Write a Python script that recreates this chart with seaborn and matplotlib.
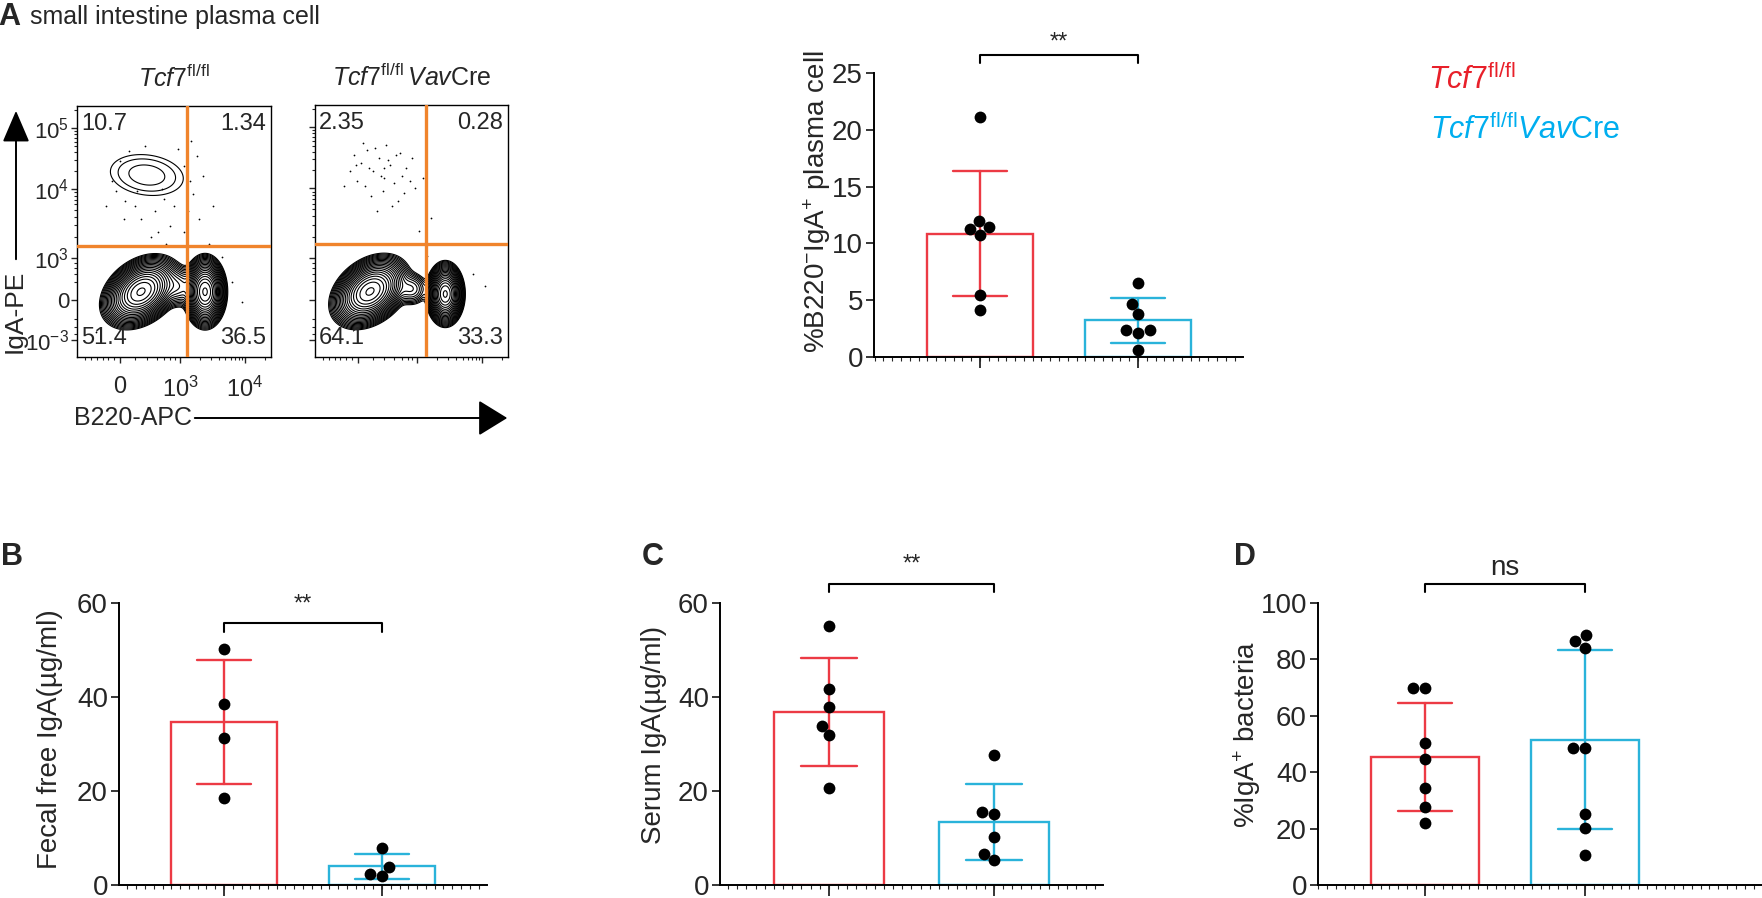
import numpy as np
import pandas as pd
import matplotlib
matplotlib.use("Agg")
import matplotlib.pyplot as plt
import seaborn as sns
from matplotlib.patches import FancyArrowPatch
from matplotlib.ticker import FixedLocator

# ---------------- data ----------------
groups = ["Tcf7fl/fl", "Tcf7fl/fl VavCre"]
group_colors = ["#EC3A44", "#2AB3DA"]
legend_colors = ["#E8202A", "#00AEEF"]

# A: %B220-IgA+ plasma cell
a_ctrl = [21.1, 12.0, 11.4, 11.3, 10.7, 5.5, 4.1]
a_cre = [6.5, 4.7, 3.8, 2.4, 2.35, 2.1, 0.65]
# B: fecal free IgA (ug/ml)
b_ctrl = [50.2, 38.6, 31.2, 18.6]
b_cre = [7.8, 3.9, 2.3, 1.9]
# C: serum IgA (ug/ml)
c_ctrl = [55.1, 41.7, 37.9, 33.9, 31.9, 20.6]
c_cre = [27.7, 15.5, 15.1, 10.2, 6.7, 5.3]
# D: %IgA+ bacteria
d_ctrl = [69.8, 69.8, 50.3, 44.7, 34.3, 27.6, 21.9]
d_cre = [88.8, 86.6, 84.1, 48.5, 48.5, 25.2, 20.1, 10.7]

sig_labels = ["**", "**", "**", "ns"]

# flow quadrant frequencies (UL, UR, LL, LR)
flow_ctrl_quads = ["10.7", "1.34", "51.4", "36.5"]
flow_cre_quads = ["2.35", "0.28", "64.1", "33.3"]
flow_ytick_labels = [r"$10^{5}$", r"$10^{4}$", r"$10^{3}$", "0", r"$10^{-3}$"]
flow_xtick_labels = ["0", r"$10^{3}$", r"$10^{4}$"]

# contour populations: centre x, centre y, sd major, sd minor, angle (deg), peak
flow_ctrl_pops = [
    [0.36, 0.725, 0.16, 0.068, -5, 2.0],
    [0.33, 0.26, 0.069, 0.042, 22, 200],
    [0.52, 0.28, 0.035, 0.045, 90, 12],
    [0.66, 0.26, 0.047, 0.036, 90, 200],
]
flow_cre_pops = [
    [0.285, 0.26, 0.069, 0.042, 22, 200],
    [0.50, 0.27, 0.030, 0.040, 90, 8],
    [0.675, 0.25, 0.041, 0.032, 90, 200],
]
# sparse events outside the contours (axes fractions)
flow_ctrl_dots_x = [0.18, 0.22, 0.25, 0.55, 0.58, 0.60, 0.62, 0.50, 0.45, 0.40, 0.30, 0.27, 0.35, 0.52,
                    0.57, 0.65, 0.20, 0.48, 0.42, 0.33, 0.70, 0.63, 0.15, 0.38, 0.55, 0.12, 0.80, 0.85,
                    0.75, 0.10, 0.46, 0.68, 0.24, 0.44, 0.59, 0.31]
flow_ctrl_dots_y = [0.70, 0.78, 0.62, 0.76, 0.70, 0.65, 0.80, 0.60, 0.63, 0.58, 0.60, 0.82, 0.84, 0.83,
                    0.58, 0.72, 0.66, 0.52, 0.50, 0.55, 0.60, 0.55, 0.60, 0.48, 0.50, 0.20, 0.30, 0.22,
                    0.40, 0.10, 0.45, 0.45, 0.55, 0.67, 0.86, 0.66]
flow_cre_dots_x = [0.20, 0.24, 0.27, 0.30, 0.33, 0.36, 0.39, 0.42, 0.45, 0.22, 0.26, 0.31, 0.35, 0.38,
                   0.41, 0.47, 0.52, 0.18, 0.29, 0.34, 0.43, 0.50, 0.56, 0.25, 0.37, 0.40, 0.32, 0.28,
                   0.46, 0.60, 0.15, 0.54, 0.21, 0.44, 0.36, 0.49, 0.82, 0.88, 0.10, 0.58]
flow_cre_dots_y = [0.80, 0.77, 0.82, 0.74, 0.79, 0.71, 0.76, 0.80, 0.72, 0.70, 0.68, 0.83, 0.66, 0.78,
                   0.69, 0.75, 0.67, 0.74, 0.64, 0.72, 0.62, 0.79, 0.71, 0.85, 0.84, 0.60, 0.58, 0.75,
                   0.65, 0.55, 0.68, 0.50, 0.76, 0.81, 0.75, 0.70, 0.33, 0.28, 0.20, 0.40]

# ---------------- layout ----------------
W, H = 1762, 898
sns.set_theme(style="ticks")
plt.rcParams["font.family"] = ["Liberation Sans", "DejaVu Sans"]
plt.rcParams["mathtext.fontset"] = "custom"
plt.rcParams["mathtext.rm"] = "Liberation Sans"
plt.rcParams["mathtext.it"] = "Liberation Sans:italic"
plt.rcParams["mathtext.bf"] = "Liberation Sans:bold"

fig = plt.figure(figsize=(W / 100, H / 100), dpi=100)
fig.patch.set_facecolor("white")


def axes_px(x0, y0, x1, y1):
    return fig.add_axes([x0 / W, 1 - y1 / H, (x1 - x0) / W, (y1 - y0) / H])


def ftext(x, y, s, **kw):
    return fig.text(x / W, 1 - y / H, s, **kw)


# ---------------- flow plots ----------------
gx, gy = np.meshgrid(np.linspace(0, 1, 500), np.linspace(0, 1, 500))


def density(pops):
    z = np.zeros_like(gx)
    for cx, cy, sa, sb, ang, peak in pops:
        t = np.deg2rad(ang)
        dx, dy = gx - cx, gy - cy
        u = dx * np.cos(t) + dy * np.sin(t)
        v = -dx * np.sin(t) + dy * np.cos(t)
        z += peak * np.exp(-0.5 * ((u / sa) ** 2 + (v / sb) ** 2))
    return z


levels = 1.3 ** np.arange(0, 21)
ytick_pos = [0.912, 0.669, 0.394, 0.227, 0.068]
xtick_pos = [0.222, 0.531, 0.866]
minor_x = [0.531 + 0.335 * np.log10(k) for k in range(2, 10)]
minor_x += [0.866 + 0.335 * np.log10(k) for k in range(2, 10) if 0.866 + 0.335 * np.log10(k) < 1]
minor_x += [0.30, 0.36, 0.41, 0.45, 0.48, 0.505]
minor_x += [0.222 - d for d in (0.03, 0.06, 0.09, 0.12, 0.15, 0.18)]
minor_y = [0.394 + 0.275 * np.log10(k) for k in range(2, 10)]
minor_y += [0.669 + 0.243 * np.log10(k) for k in range(2, 10)]
minor_y += [0.912 + 0.243 * np.log10(k) for k in range(2, 4)]
minor_y += [0.30, 0.33, 0.355, 0.375, 0.15, 0.12, 0.09]


def flow_panel(rect, pops, dots_x, dots_y, quads, gate_x, gate_y, title, ylabels):
    ax = axes_px(*rect)
    ax.contour(gx, gy, density(pops), levels=levels, colors="black", linewidths=0.8)
    ax.scatter(dots_x, dots_y, s=1.6, color="black", linewidths=0)
    ax.axvline(gate_x, color="#F0842C", lw=2.4, zorder=5)
    ax.axhline(gate_y, color="#F0842C", lw=2.4, zorder=5)
    ax.set_xlim(0, 1)
    ax.set_ylim(0, 1)
    for s in ax.spines.values():
        s.set_visible(True)
        s.set_linewidth(1.0)
        s.set_color("black")
    ax.set_xticks(xtick_pos)
    ax.set_yticks(ytick_pos)
    ax.xaxis.set_minor_locator(FixedLocator(minor_x))
    ax.yaxis.set_minor_locator(FixedLocator(minor_y))
    ax.tick_params(which="major", direction="out", length=4, width=1, pad=1.5)
    ax.tick_params(which="minor", direction="out", length=2.5, width=0.8)
    if ylabels:
        ax.set_xticklabels(flow_xtick_labels, fontsize=17)
        ax.set_yticklabels(flow_ytick_labels, fontsize=16)
        ax.tick_params(axis="x", pad=10)
    else:
        ax.set_xticklabels([])
        ax.set_yticklabels([])
    pos = [(0.022, 0.93, "left"), (0.975, 0.93, "right"), (0.022, 0.075, "left"), (0.975, 0.075, "right")]
    for (px, py, ha), q in zip(pos, quads):
        ax.text(px, py, q, transform=ax.transAxes, ha=ha, va="center", fontsize=17, zorder=6)
    ax.set_title(title, fontsize=18, pad=14)
    return ax


flow_panel((77, 106, 271, 357), flow_ctrl_pops, flow_ctrl_dots_x, flow_ctrl_dots_y, flow_ctrl_quads,
           0.567, 0.442, r"$\mathit{Tcf7}^{\mathrm{fl/fl}}$", True)
flow_panel((315, 105, 508, 357), flow_cre_pops, flow_cre_dots_x, flow_cre_dots_y, flow_cre_quads,
           0.575, 0.45, r"$\mathit{Tcf7}^{\mathrm{fl/fl}}\,\mathit{Vav}\mathrm{Cre}$", False)

ftext(15, 311, "IgA-PE", rotation=90, ha="center", va="center", fontsize=19)
ftext(133, 418, "B220-APC", ha="center", va="center", fontsize=18)
fig.add_artist(FancyArrowPatch((16 / W, 1 - 262 / H), (16 / W, 1 - 108 / H),
                               transform=fig.transFigure, arrowstyle="-|>,head_length=1.4,head_width=0.6",
                               mutation_scale=14, lw=1.4, color="black"))
fig.add_artist(FancyArrowPatch((192 / W, 1 - 418 / H), (510 / W, 1 - 418 / H),
                               transform=fig.transFigure, arrowstyle="-|>,head_length=1.3,head_width=0.8",
                               mutation_scale=14, lw=1.4, color="black"))

ftext(9, 17, "A", ha="center", va="center", fontsize=22, fontweight="bold")
ftext(30, 17, "small intestine plasma cell", ha="left", va="center", fontsize=18)

# legend (coloured text)
ftext(1428, 80, r"$\mathit{Tcf7}^{\mathrm{fl/fl}}$", color=legend_colors[0], ha="left", va="center", fontsize=22)
ftext(1430, 130, r"$\mathit{Tcf7}^{\mathrm{fl/fl}}\mathit{Vav}\mathrm{Cre}$", color=legend_colors[1],
      ha="left", va="center", fontsize=22)


# ---------------- bar panels ----------------
def bar_panel(rect, centers, ctrl, cre, ymax, ystep, ylabel, label_xy, sig, br_y, br_drop, txt_y, letter=None):
    ax = axes_px(*rect)
    df = pd.DataFrame({
        "group": [groups[0]] * len(ctrl) + [groups[1]] * len(cre),
        "value": list(ctrl) + list(cre),
    })
    sns.barplot(data=df, x="group", y="value", hue="group", order=groups, hue_order=groups,
                palette=group_colors, fill=False, errorbar="sd", capsize=0.34, width=0.67,
                linewidth=1.7, err_kws={"linewidth": 1.7}, legend=False, ax=ax)
    sns.swarmplot(data=df, x="group", y="value", order=groups, color="black", size=8.5,
                  zorder=4, ax=ax)
    spacing = centers[1] - centers[0]
    ax.set_xlim(-(centers[0] - rect[0]) / spacing, 1 + (rect[2] - centers[1]) / spacing)
    ax.set_ylim(0, ymax)
    ax.set_yticks(np.arange(0, ymax + 0.1, ystep))
    ax.set_xticks([0, 1])
    ax.set_xticklabels([])
    ax.xaxis.set_minor_locator(FixedLocator(np.arange(-0.667, ax.get_xlim()[1], 1 / 18)))
    ax.set_xlabel("")
    ax.set_ylabel("")
    sns.despine(ax=ax)
    for s in ("left", "bottom"):
        ax.spines[s].set_linewidth(1.4)
        ax.spines[s].set_color("black")
    ax.tick_params(axis="y", which="major", direction="out", length=6, width=1.3, labelsize=20, pad=2)
    ax.tick_params(axis="x", which="major", direction="out", length=8, width=1.3)
    ax.tick_params(axis="x", which="minor", direction="out", length=3, width=0.8)
    ax.plot([0, 0, 1, 1], [br_y - br_drop, br_y, br_y, br_y - br_drop], color="black", lw=1.5,
            clip_on=False)
    ax.text(0.5, txt_y, sig, ha="center", va="center", fontsize=17 if sig == "**" else 20,
            clip_on=False)
    ftext(label_xy[0], label_xy[1], ylabel, rotation=90, ha="center", va="center", fontsize=20)
    if letter:
        ftext(letter[0], letter[1], letter[2], ha="center", va="center", fontsize=22, fontweight="bold")
    return ax


bar_panel((874, 73, 1243, 357), (980, 1138), a_ctrl, a_cre, 25, 5,
          r"%B220$^{-}$IgA$^{+}$ plasma cell", (817, 202), sig_labels[0], 26.6, 0.7, 27.7)
bar_panel((119, 603, 487, 885), (224, 382), b_ctrl, b_cre, 60, 20,
          "Fecal free IgA(µg/ml)", (50, 739), sig_labels[1], 55.7, 1.9, 59.6, (12, 557, "B"))
bar_panel((720, 603, 1103, 885), (829, 994), c_ctrl, c_cre, 60, 20,
          "Serum IgA(µg/ml)", (654, 735), sig_labels[2], 64.0, 1.7, 68.1, (653, 557, "C"))
bar_panel((1318, 603, 1762, 885), (1425, 1585), d_ctrl, d_cre, 100, 20,
          r"%IgA$^{+}$ bacteria", (1247, 734), sig_labels[3], 106.7, 2.8, 112.5, (1245, 557, "D"))

fig.savefig("out.png", dpi=100, facecolor="white")
